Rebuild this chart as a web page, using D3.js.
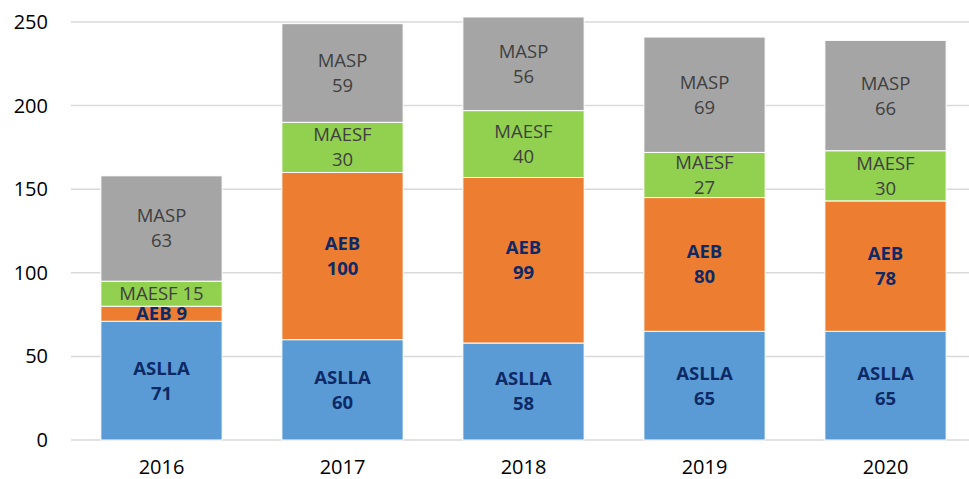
<!DOCTYPE html>
<html><head><meta charset="utf-8">
<script src="https://cdn.jsdelivr.net/npm/d3@7"></script>
<style>body{margin:0;background:#fff;}svg{display:block;font-family:"Open Sans",sans-serif;}</style>
</head><body><svg id="c" width="969" height="479"></svg>
<script>
const years = ["2016","2017","2018","2019","2020"];
const seriesNames = ["ASLLA","AEB","MAESF","MASP"];
const ASLLA = [71,60,58,65,65];
const AEB = [9,100,99,80,78];
const MAESF = [15,30,40,27,30];
const MASP = [63,59,56,69,66];
const yTicks = [0,50,100,150,200,250];
const colors = ["#5b9bd5","#ed7d31","#92d050","#a5a5a5"];
const labelColors = ["#0e2a66","#0e2a66","#404040","#404040"];
const labelWeights = ["bold","bold","normal","normal"];
const singleLine = {"2016":["AEB","MAESF"]};

const svg = d3.select("#c");
const x = d3.scaleBand().domain(years).range([71,976]).paddingInner(0.33).paddingOuter(0.165);
const y = d3.scaleLinear().domain([0,250]).range([440,22]);

const rows = years.map((yr,i)=>({year:yr,ASLLA:ASLLA[i],AEB:AEB[i],MAESF:MAESF[i],MASP:MASP[i]}));
const stacked = d3.stack().keys(seriesNames)(rows);

// gridlines
svg.append("g").selectAll("line").data(yTicks).join("line")
  .attr("x1",71).attr("x2",976).attr("y1",d=>y(d)).attr("y2",d=>y(d))
  .attr("stroke","#d9d9d9").attr("stroke-width",1.5);

// y tick labels
const yAxis = d3.axisLeft(y).tickValues(yTicks).tickSize(0).tickPadding(0);
const ya = svg.append("g").attr("transform","translate(48,0)").call(yAxis);
ya.select(".domain").remove();
ya.selectAll("text").attr("font-size",20).attr("fill","#000").style("font-family","'Open Sans',sans-serif");

// x axis labels
const xAxis = d3.axisBottom(x).tickSize(0).tickPadding(0);
const xa = svg.append("g").attr("transform","translate(0,460)").call(xAxis);
xa.select(".domain").remove();
xa.selectAll("text").attr("font-size",20).attr("fill","#000").style("font-family","'Open Sans',sans-serif");

// bars
stacked.forEach((s,si)=>{
  const g = svg.append("g");
  g.selectAll("rect").data(s).join("rect")
    .attr("x",d=>x(d.data.year)).attr("width",x.bandwidth())
    .attr("y",d=>y(d[1])).attr("height",d=>y(d[0])-y(d[1]))
    .attr("fill",colors[si]).attr("stroke","#fff").attr("stroke-width",1);
});

// labels
stacked.forEach((s,si)=>{
  const name = seriesNames[si];
  s.forEach(d=>{
    const cx = x(d.data.year)+x.bandwidth()/2;
    const cy = (y(d[0])+y(d[1]))/2;
    const val = d[1]-d[0];
    const t = svg.append("text").attr("text-anchor","middle")
      .attr("font-size",18.5).attr("font-weight",labelWeights[si]).attr("fill",labelColors[si]);
    const single = (singleLine[d.data.year]||[]).includes(name);
    if(single){
      t.attr("x",cx).attr("y",cy).attr("dy","0.35em").text(name+" "+val);
    } else {
      t.append("tspan").attr("x",cx).attr("y",cy-12.5).attr("dy","0.35em").text(name);
      t.append("tspan").attr("x",cx).attr("y",cy+12.5).attr("dy","0.35em").text(val);
    }
  });
});
</script></body></html>
